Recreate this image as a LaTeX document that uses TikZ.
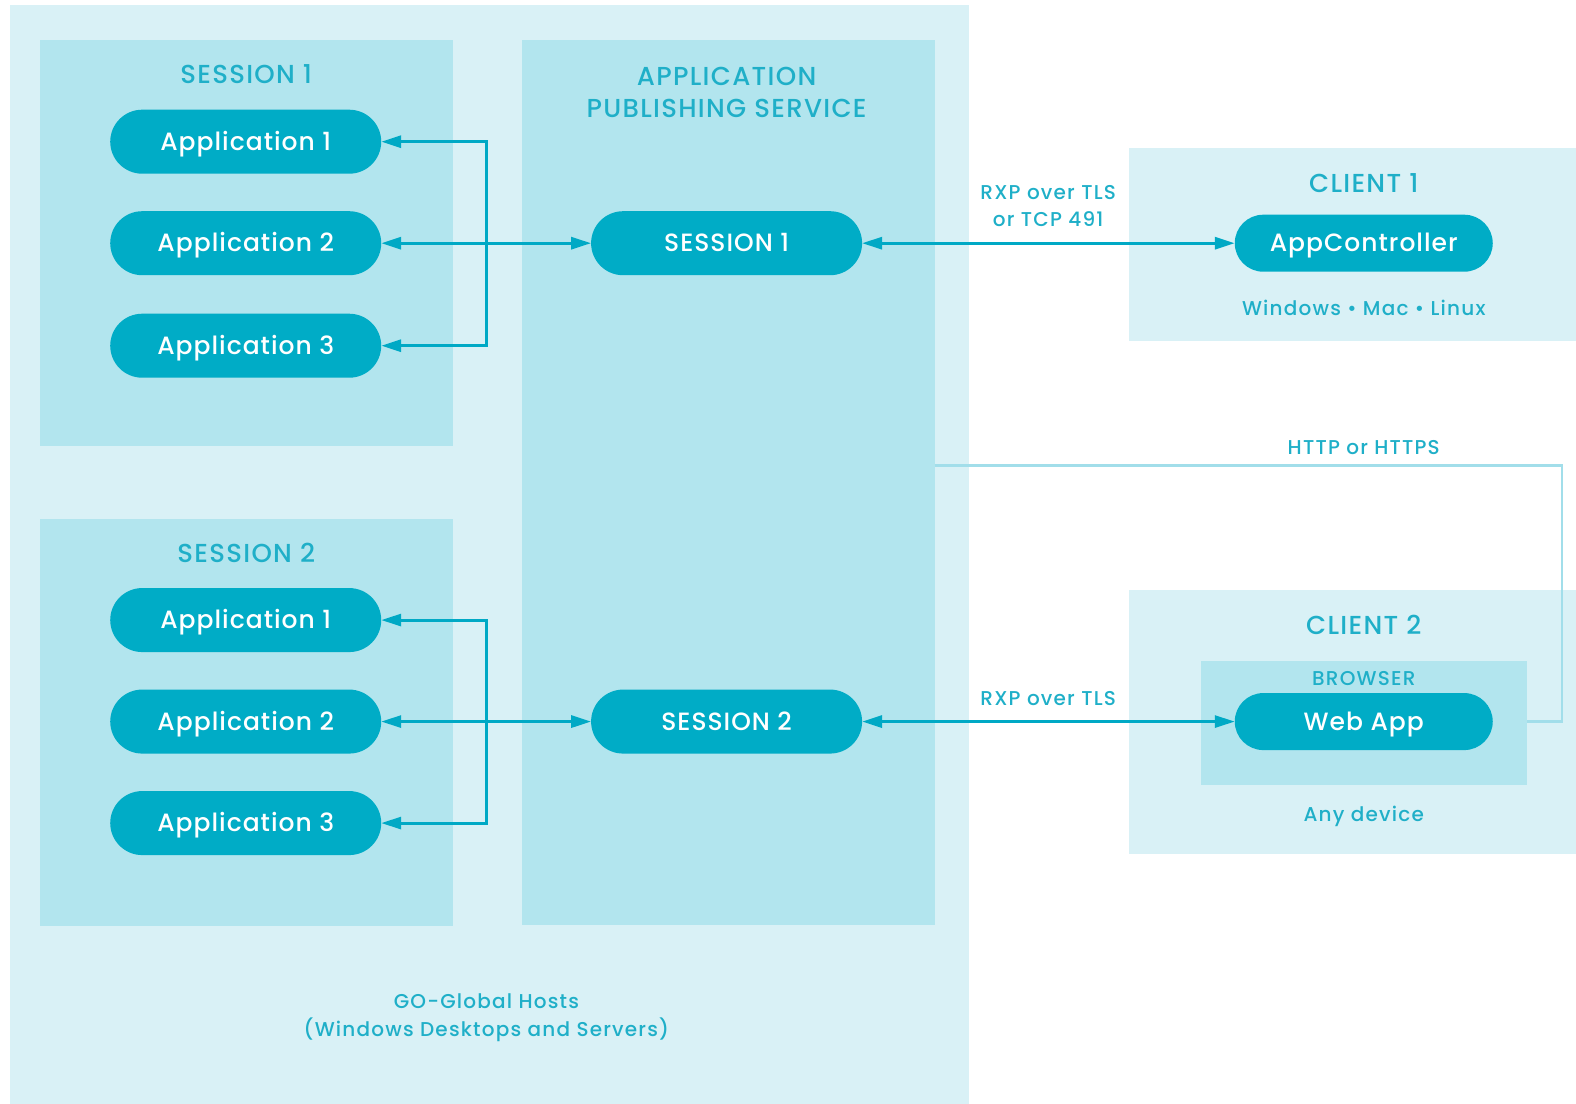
\documentclass[tikz,border=0pt]{standalone}
\usepackage{fontspec}
\setmainfont{Poppins}
\newfontfamily\pmed{Poppins}[UprightFont=* Medium]
\usetikzlibrary{arrows.meta}
\definecolor{hostc}{HTML}{D9F1F6}
\definecolor{boxc}{HTML}{B2E5EE}
\definecolor{pillc}{HTML}{00ACC6}
\definecolor{txtc}{HTML}{1FAFC8}
\definecolor{linec}{HTML}{00A9C5}
\definecolor{httpc}{HTML}{A2DEEA}
\tikzset{
  area/.style={fill=#1, draw=none, inner sep=0pt, outer sep=0pt, anchor=center},
  pill/.style={fill=pillc, draw=none, text=white, rounded corners=32pt,
    minimum width=271pt, minimum height=64pt, inner sep=0pt, outer sep=0pt,
    text height=17.5pt, text depth=0pt,
    font=\pmed\fontsize{25}{30}\selectfont\addfontfeature{LetterSpace=4}},
  cpill/.style={pill, rounded corners=28.5pt, minimum width=258pt, minimum height=57pt},
  head/.style={text=txtc, inner sep=0pt, font=\pmed\fontsize{26}{30}\selectfont\addfontfeature{LetterSpace=5}},
  small/.style={text=txtc, inner sep=0pt, font=\pmed\fontsize{20}{24}\selectfont\addfontfeature{LetterSpace=6}},
  conn/.style={draw=linec, line width=3pt, {Triangle[length=20pt,width=12pt]}-{Triangle[length=20pt,width=12pt]}},
  httpline/.style={draw=httpc, line width=2.5pt},
}
\begin{document}
\begin{tikzpicture}[x=1.005pt,y=-1.005pt]
\useasboundingbox (0,0) rectangle (1568.2,1098.5);
% areas
\node[area=hostc, minimum width=958.8pt, minimum height=1105pt] (host) at (487,555) {};
\node[area=boxc, minimum width=413pt, minimum height=406pt] (sess1) at (245.5,242) {};
\node[area=boxc, minimum width=413pt, minimum height=407pt] (sess2) at (245.5,718.5) {};
\node[area=boxc, minimum width=413pt, minimum height=885pt] (aps) at (724.5,480.5) {};
\node[area=hostc, minimum width=460pt, minimum height=193pt] (client1) at (1352.5,243) {};
\node[area=hostc, minimum width=460pt, minimum height=264pt] (client2) at (1352.5,718.5) {};
\node[area=boxc, minimum width=326pt, minimum height=124pt] (browser) at (1357,719.5) {};
% headings
\node[head] (t1) at (245,74) {SESSION 1};
\node[head] (t2) at (245,550) {SESSION 2};
\node[head] (t3) at (723,76) {APPLICATION};
\node[head] (t4) at (723,108) {PUBLISHING SERVICE};
\node[head] (t5) at (1357,182) {CLIENT 1};
\node[head] (t6) at (1357,622) {CLIENT 2};
\node[small] (t7) at (1357,675) {BROWSER};
\node[small] (t8) at (1043,192) {RXP over TLS};
\node[small] (t9) at (1043,218) {or TCP 491};
\node[small] (t10) at (1357,306) {Windows \textbullet{} Mac \textbullet{} Linux};
\node[small] (t11) at (1357,445) {HTTP or HTTPS};
\node[small] (t12) at (1043,695) {RXP over TLS};
\node[small] (t13) at (1357,812) {Any device};
\node[small] (t14) at (484,996) {GO-Global Hosts};
\node[small] (t15) at (484,1025) {(Windows Desktops and Servers)};
% pills
\node[pill] (a11) at (244.5,141) {Application 1};
\node[pill] (a12) at (244.5,242) {Application 2};
\node[pill] (a13) at (244.5,344) {Application 3};
\node[pill] (a21) at (244.5,617) {Application 1};
\node[pill] (a22) at (244.5,718) {Application 2};
\node[pill] (a23) at (244.5,819) {Application 3};
\node[pill] (s1) at (723,242) {SESSION 1};
\node[pill] (s2) at (723,718) {SESSION 2};
\node[cpill] (ac) at (1357,242) {AppController};
\node[cpill] (web) at (1357,718) {Web App};
% connectors
\coordinate (k) at (484,0);
\draw[conn] (a11.east) -| (k |- a13.east) -- (a13.east);
\draw[conn] (a12.east) -- (s1.west);
\draw[conn] (s1.east) -- (ac.west);
\draw[conn] (a21.east) -| (k |- a23.east) -- (a23.east);
\draw[conn] (a22.east) -- (s2.west);
\draw[conn] (s2.east) -- (web.west);
\coordinate (hr) at (1554,463);
\draw[httpline] (aps.east |- hr) -- (hr) |- (browser.east |- web);
\end{tikzpicture}
\end{document}
